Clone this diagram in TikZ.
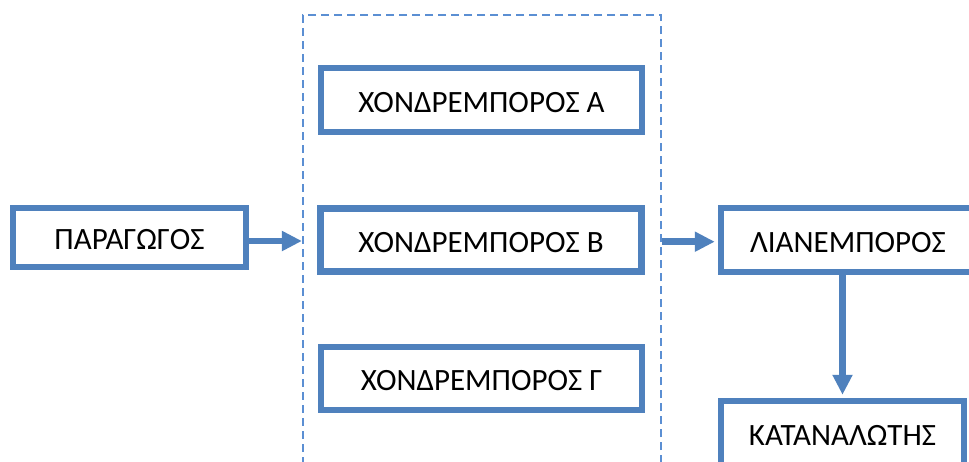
\documentclass[tikz,border=0pt]{standalone}
\usepackage{fontspec}
\setmainfont{Carlito}
\usetikzlibrary{arrows.meta,calc}
\definecolor{boxblue}{HTML}{4F81BD}
\definecolor{dashblue}{HTML}{5B8FD3}
\begin{document}
\begin{tikzpicture}[x=1pt,y=-1pt,
  box/.style={draw=boxblue,line width=6.5pt,fill=white,rectangle,inner sep=0pt,
    font=\fontsize{31pt}{36pt}\selectfont,text=black,text height=24pt,text depth=0pt},
  grpbox/.style={draw=dashblue,line width=2.2pt,dash pattern=on 8pt off 5pt,rectangle,inner sep=0pt},
  arr/.style={draw=boxblue,line width=6.5pt,-{Triangle[length=20pt,width=19pt]}}]
\useasboundingbox (0,0) rectangle (969,461);
\clip (0,0) rectangle (969,461);
\fill[white] (0,0) rectangle (969,461);
% dashed group
\node[grpbox,minimum width=358pt,minimum height=480pt] (grp) at (482,255) {};
% boxes
\node[box,minimum width=233pt,minimum height=59pt] (par) at (129.5,237.5) {ΠΑΡΑΓΩΓΟΣ};
\node[box,minimum width=321pt,minimum height=64pt] (ha) at (481.5,100) {ΧΟΝΔΡΕΜΠΟΡΟΣ Α};
\node[box,minimum width=321pt,minimum height=63pt] (hb) at (481,240) {ΧΟΝΔΡΕΜΠΟΡΟΣ Β};
\node[box,minimum width=321pt,minimum height=63pt] (hg) at (481.5,378.5) {ΧΟΝΔΡΕΜΠΟΡΟΣ Γ};
\node[box,minimum width=254pt,minimum height=64pt] (lian) at (848,240) {ΛΙΑΝΕΜΠΟΡΟΣ};
\node[box,minimum width=243pt,minimum height=64pt] (kat) at (842.5,433) {ΚΑΤΑΝΑΛΩΤΗΣ};
% connectors
\coordinate (p1) at ([yshift=-3.5pt]par.east);
\coordinate (l1) at ([yshift=-1.7pt]lian.west);
\draw[arr] (p1) -- (p1 -| grp.west);
\draw[arr,shorten >=3pt] (l1 -| grp.east) -- (l1);
\draw[arr,shorten >=3pt] (lian.south -| kat.north) -- (kat.north);
\end{tikzpicture}
\end{document}
